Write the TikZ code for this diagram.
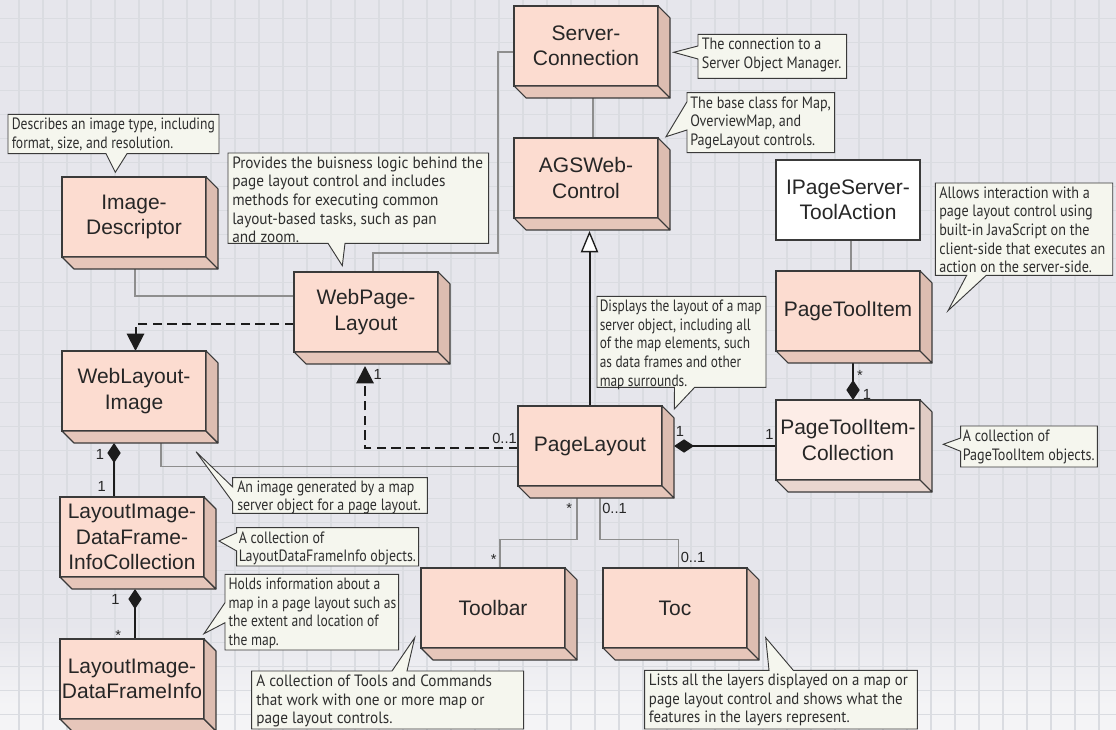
\documentclass[tikz,border=0pt]{standalone}
\usepackage{fontspec}
\setmainfont{Liberation Sans}
\newfontfamily\notefont[FakeStretch=0.87]{PT Sans}
\usetikzlibrary{arrows.meta,calc}

\definecolor{bgcol}{HTML}{E6E6EC}
\definecolor{bglow}{HTML}{F4F4F6}
\definecolor{gridcol}{HTML}{DADCE1}
\definecolor{boxfront}{HTML}{FCDCD0}
\definecolor{boxright}{HTML}{DDBDB1}
\definecolor{boxbottom}{HTML}{E6C6BA}
\definecolor{litefront}{HTML}{FDEDE7}
\definecolor{literight}{HTML}{E0CCC5}
\definecolor{litebottom}{HTML}{E9D6CF}
\definecolor{edge}{HTML}{3A3A3A}
\definecolor{notefill}{HTML}{F5F6EE}
\definecolor{assoccol}{HTML}{8E8E8E}
\definecolor{inkcol}{HTML}{1C1C1C}

\pgfdeclarelayer{under}
\pgfsetlayers{under,main}

\tikzset{
  classbox/.style={draw=edge, line width=0.8pt, minimum width=108pt,
    minimum height=60pt, inner sep=0pt, outer sep=0pt, align=center,
    anchor=north west, text=black!85,
    font=\fontsize{15.75}{19}\selectfont},
  depthface/.style={draw=edge, line width=0.8pt, line join=round},
  notebox/.style={draw=edge, line width=0.7pt, fill=notefill},
  notetext/.style={anchor=north west, inner sep=0pt, align=left,
    text=black!82, font=\notefont\fontsize{12.3}{14}\selectfont},
  mult/.style={anchor=base, inner sep=0pt, text=black!85,
    font=\fontsize{11}{12}\selectfont},
  assoc/.style={draw=assoccol, line width=1.4pt},
  depend/.style={draw=inkcol, line width=1.5pt, dash pattern=on 7pt off 4pt,
    -{Triangle[length=13pt,width=13pt]}},
  inherit/.style={draw=inkcol, line width=1.5pt,
    -{Triangle[length=16pt,width=13pt,fill=white,line width=1pt]}},
  compose/.style={draw=inkcol, line width=1.5pt,
    {Diamond[length=15pt,width=10pt]}-},
}

% a class drawn as a raised block: front face plus right and bottom faces
\newcommand\solidclass[5]{%
  \node[classbox, fill=#5front] (#1) at (#2,#3) {#4};
  \filldraw[depthface, fill=#5bottom] (#1.south west) -- ++(12,12)
    -- ($(#1.south east)+(12,12)$) -- (#1.south east) -- cycle;
  \filldraw[depthface, fill=#5right] (#1.north east) -- ++(12,12)
    -- ($(#1.south east)+(12,12)$) -- (#1.south east) -- cycle;
}

% note text, set from its top-left corner and narrowed or widened by #4
\newcommand\putnote[5]{%
  \begin{scope}[shift={(#2,#3)}, xscale=#4]
    \node[notetext, transform shape] (#1) at (0,0) {\strut #5};
  \end{scope}
}

\begin{document}
\begin{tikzpicture}[x=0.75pt,y=-0.75pt]
\useasboundingbox (0,0) rectangle (1116,730);
\clip (0,0) rectangle (1116,730);

% ---------- classes ----------
\solidclass{sc}{514}{6}{Server-\\Connection}{box}
\solidclass{agc}{514}{138}{AGSWeb-\\Control}{box}
\solidclass{idesc}{62}{177}{Image-\\Descriptor}{box}
\solidclass{wpl}{294}{272}{WebPage-\\Layout}{box}
\solidclass{wli}{62}{351}{WebLayout-\\Image}{box}
\solidclass{pl}{518}{406}{PageLayout}{box}
\node[classbox, fill=white] (ipst) at (776,160) {IPageServer-\\ToolAction};
\solidclass{pti}{776}{271}{PageToolItem}{box}
\solidclass{ptic}{776}{400}{PageToolItem-\\Collection}{lite}
\solidclass{lidfic}{60}{497}{LayoutImage-\\DataFrame-\\InfoCollection}{box}
\solidclass{lidfi}{60}{639}{LayoutImage-\\DataFrameInfo}{box}
\solidclass{tb}{421}{568}{Toolbar}{box}
\solidclass{toc}{603}{568}{Toc}{box}

% ---------- backdrop and connectors ----------
\begin{pgfonlayer}{under}
  \fill[bgcol] (0,0) rectangle (1116,730);
  \fill[top color=bgcol, bottom color=bglow] (0,625) rectangle (1116,705);
  \fill[bglow] (0,705) rectangle (1116,730);
  \foreach \i in {0,...,45} \draw[gridcol, line width=0.9pt] (19+24*\i,0) -- ++(0,730);
  \foreach \j in {0,...,30} \draw[gridcol, line width=0.9pt] (0,18.5+24*\j) -- ++(1116,0);

  \draw[assoc] ($(sc.south)+(7,12)$) -- ($(agc.north)+(7,0)$);
  \draw[assoc] ($(sc.west)+(0,6)$) -- ++(-16,0) |- ($(wpl.north)+(7,-19)$)
    -- ($(wpl.north)+(7,0)$);
  \draw[assoc] ($(idesc.south)+(1,12)$) |- ($(wpl.west)+(0,-16)$);
  \draw[assoc] ($(wli.south)+(27,12)$) |- ($(pl.west)+(0,20.5)$);
  \draw[assoc] ($(ipst.south)+(3,0)$) -- ($(pti.north)+(3,0)$);
  \draw[assoc] ($(pl.south)+(-13,12)$) |- ($(tb.north)+(7,-28.5)$)
    -- ($(tb.north)+(7,0)$);
  \draw[assoc] ($(pl.south)+(10,12)$) |- ($(toc.north)+(3.5,-28.5)$)
    -- ($(toc.north)+(3.5,0)$);

  \draw[depend] ($(wpl.west)+(0,12)$) -| ($(wli.north)+(1.5,0)$);
  \draw[depend] ($(pl.west)+(0,2)$) -| ($(wpl.south)+(-1,14)$);

  \draw[inherit] ($(pl.north)+(-0.5,0)$) -- ($(agc.south)+(3.5,13)$);

  \draw[compose] ($(pl.east)+(12,0)$) -- (ptic.west |- pl.east);
  \draw[compose] ($(ptic.north)+(5,0)$) -- ($(pti.south)+(5,12)$);
  \draw[compose] ($(wli.south)+(-20,12)$) -- ($(lidfic.north)+(-18,0)$);
  \draw[compose] ($(lidfic.south)+(3,12)$) -- ($(lidfi.north)+(3,0)$);
\end{pgfonlayer}

% ---------- multiplicities ----------
\node[mult] (m1) at (377.7,380) {1};
\node[mult] (m2) at (504.5,443.3) {0..1};
\node[mult] (m3) at (680,436.3) {1};
\node[mult] (m4) at (769.5,439.7) {1};
\node[mult] (m5) at (860,380.7) {*};
\node[mult] (m6) at (867,399) {1};
\node[mult] (m7) at (100,459.7) {1};
\node[mult] (m8) at (101.7,491) {1};
\node[mult] (m9) at (115.5,604.3) {1};
\node[mult] (m10) at (118.3,640.7) {*};
\node[mult] (m11) at (569.3,513) {*};
\node[mult] (m12) at (493.7,564.7) {*};
\node[mult] (m13) at (614.5,513.7) {0..1};
\node[mult] (m14) at (693,562) {0..1};

% ---------- notes ----------
\draw[notebox] (8,114.3) -- (219,114.3) -- (219,153.7) -- (127,153.7)
  -- (115.3,172.3) -- (106,153.7) -- (8,153.7) -- cycle;
\putnote{n1}{11.5}{116.3}{0.955}{Describes an image type, including\\format, size, and resolution.}

\draw[notebox] (228,153) -- (488.7,153) -- (488.7,243.3) -- (345,243.3)
  -- (342.3,265.7) -- (328,243.3) -- (228,243.3) -- cycle;
\putnote{n2}{232}{155}{1.07}{Provides the buisness logic behind the\\page layout control and includes\\methods for executing common\\layout-based tasks, such as pan\\and zoom.}

\draw[notebox] (698,34.3) -- (846.7,34.3) -- (846.7,78.3) -- (698,78.3)
  -- (698,59) -- (673.7,52.3) -- (698,46) -- cycle;
\putnote{n3}{701.5}{36.3}{0.99}{The connection to a\\Server Object Manager.}

\draw[notebox] (687,92.7) -- (834.7,92.7) -- (834.7,152.7) -- (687,152.7)
  -- (687,130) -- (666,136.7) -- (687,101.7) -- cycle;
\putnote{n4}{690}{94.7}{0.99}{The base class for Map,\\OverviewMap, and\\PageLayout controls.}

\draw[notebox] (935.3,183) -- (1112.7,183) -- (1112.7,275.3) -- (986.3,275.3)
  -- (948,310.7) -- (966.7,275.3) -- (935.3,275.3) -- cycle;
\putnote{n5}{939}{185}{0.99}{Allows interaction with a\\page layout control using\\built-in JavaScript on the\\client-side that executes an\\action on the server-side.}

\draw[notebox] (597,296.3) -- (766,296.3) -- (766,387.3) -- (694.7,387.3)
  -- (674.3,409) -- (674.5,387.3) -- (597,387.3) -- cycle;
\putnote{n6}{599.5}{298.3}{0.935}{Displays the layout of a map\\server object, including all\\of the map elements, such\\as data frames and other\\map surrounds.}

\draw[notebox] (960.7,426) -- (1097.3,426) -- (1097.3,467) -- (960.7,467)
  -- (960.7,451.3) -- (943.3,444.3) -- (960.7,438) -- cycle;
\putnote{n7}{962.5}{428}{0.99}{A collection of\\PageToolItem objects.}

\draw[notebox] (232.7,477.7) -- (427.3,477.7) -- (427.3,513.3) -- (232.7,513.3)
  -- (232.7,502) -- (196,451.7) -- (232.7,487) -- cycle;
\putnote{n8}{237}{478.7}{0.975}{An image generated by a map\\server object for a page layout.}

\draw[notebox] (236.7,527.7) -- (418.7,527.7) -- (418.7,566) -- (236.7,566)
  -- (236.7,551) -- (219,541) -- (236.7,532.7) -- cycle;
\putnote{n9}{238.5}{529.7}{0.975}{A collection of\\LayoutDataFrameInfo objects.}

\draw[notebox] (225,574.3) -- (398.7,574.3) -- (398.7,650) -- (225,650)
  -- (225,622.7) -- (204,633.7) -- (225,602.7) -- cycle;
\putnote{n10}{228.3}{576.3}{0.95}{Holds information about a\\map in a page layout such as\\the extent and location of\\the map.}

\draw[notebox] (251.7,671) -- (392,671) -- (414.7,637.7) -- (407,671)
  -- (523.7,671) -- (523.7,729) -- (251.7,729) -- cycle;
\putnote{n11}{256}{673}{1.07}{A collection of Tools and Commands\\that work with one or more map or\\page layout controls.}

\draw[notebox] (644.7,670.3) -- (769,670.3) -- (765.7,637.7) -- (793.3,670.3)
  -- (917.3,670.3) -- (917.3,729) -- (644.7,729) -- cycle;
\putnote{n12}{648.7}{672.3}{1.04}{Lists all the layers displayed on a map or\\page layout control and shows what the\\features in the layers represent.}

\end{tikzpicture}
\end{document}
